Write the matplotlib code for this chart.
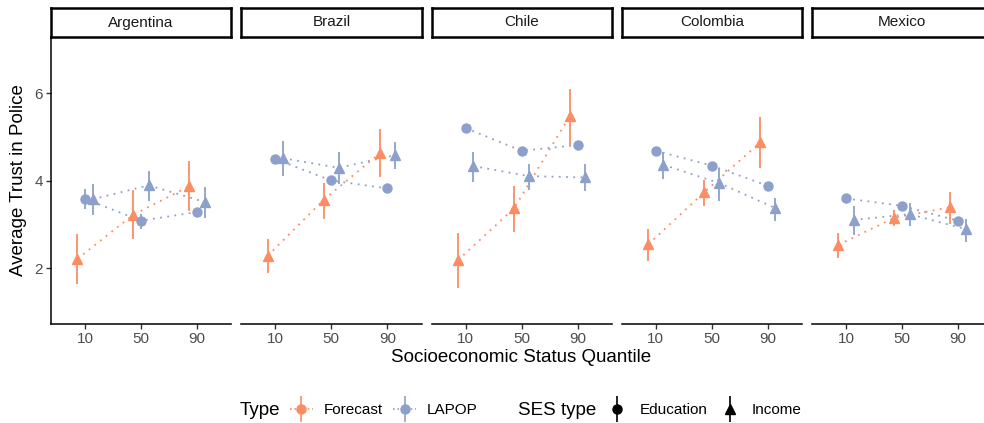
import numpy as np
import matplotlib.pyplot as plt
from matplotlib.lines import Line2D
from matplotlib.collections import LineCollection
from matplotlib.container import ErrorbarContainer
from matplotlib.legend_handler import HandlerErrorbar

plt.rcParams['font.family'] = ['Liberation Sans', 'DejaVu Sans']

countries = ['Argentina', 'Brazil', 'Chile', 'Colombia', 'Mexico']
quantiles = [10, 50, 90]

# forecast (income based)
fc_mean = [[2.22, 3.23, 3.88], [2.29, 3.57, 4.63], [2.19, 3.37, 5.49], [2.55, 3.74, 4.88], [2.54, 3.16, 3.40]]
fc_lo = [[1.65, 2.67, 3.31], [1.89, 3.13, 4.08], [1.55, 2.83, 4.82], [2.16, 3.43, 4.29], [2.23, 2.98, 3.02]]
fc_hi = [[2.79, 3.79, 4.46], [2.67, 3.95, 5.18], [2.82, 3.89, 6.10], [2.90, 4.02, 5.45], [2.80, 3.34, 3.74]]

# LAPOP by education
ed_mean = [[3.59, 3.09, 3.29], [4.50, 4.01, 3.83], [5.21, 4.69, 4.82], [4.69, 4.35, 3.89], [3.60, 3.43, 3.09]]
ed_lo = [[3.36, 2.90, 3.20], [4.40, 3.93, 3.75], [5.14, 4.62, 4.75], [4.62, 4.28, 3.82], [3.50, 3.35, 3.01]]
ed_hi = [[3.81, 3.25, 3.37], [4.60, 4.09, 3.91], [5.28, 4.76, 4.89], [4.76, 4.42, 3.96], [3.70, 3.51, 3.17]]

# LAPOP by income
in_mean = [[3.58, 3.90, 3.52], [4.52, 4.30, 4.59], [4.34, 4.11, 4.08], [4.37, 3.95, 3.38], [3.11, 3.24, 2.90]]
in_lo = [[3.22, 3.54, 3.16], [4.11, 3.92, 4.27], [3.98, 3.79, 3.78], [4.04, 3.53, 3.09], [2.77, 2.96, 2.61]]
in_hi = [[3.93, 4.23, 3.86], [4.92, 4.65, 4.88], [4.67, 4.38, 4.38], [4.65, 4.30, 3.62], [3.43, 3.50, 3.13]]

ORANGE = '#FC8D62'
BLUE = '#8DA0CB'
GREY = '#4D4D4D'

W, H = 984, 423
fig = plt.figure(figsize=(W / 100, H / 100), dpi=100)

left0, pitch, pw = 51, 190.25, 180.25
top, bottom, strip_top = 37, 324, 8
dodge = 5.4
q = np.array(quantiles, dtype=float)
dots = (0, (1, 3))


def draw_series(ax, x, m, lo, hi, color, marker, ms):
    m = np.array(m)
    err = [m - np.array(lo), np.array(hi) - m]
    ax.plot(x, m, ls=dots, color=color, lw=1.3, zorder=2)
    ax.errorbar(x, m, yerr=err, fmt=marker, color=color, ms=ms,
                elinewidth=1.3, capsize=0, zorder=3)


for i, c in enumerate(countries):
    x0 = left0 + i * pitch
    ax = fig.add_axes([x0 / W, 1 - bottom / H, pw / W, (bottom - top) / H])
    sax = fig.add_axes([x0 / W, 1 - top / H, pw / W, (top - strip_top) / H])

    draw_series(ax, q - dodge, fc_mean[i], fc_lo[i], fc_hi[i], ORANGE, '^', 7.5)
    draw_series(ax, q, ed_mean[i], ed_lo[i], ed_hi[i], BLUE, 'o', 6.5)
    draw_series(ax, q + dodge, in_mean[i], in_lo[i], in_hi[i], BLUE, '^', 7.5)

    ax.set_xlim(-14.3, 114.45)
    ax.set_ylim(0.73, 7.29)
    ax.set_xticks(quantiles)
    ax.set_yticks([2, 4, 6])
    for s in ['top', 'right']:
        ax.spines[s].set_visible(False)
    ax.spines['bottom'].set_linewidth(1.1)
    ax.spines['left'].set_linewidth(1.1)
    ax.tick_params(colors='#333333', labelcolor=GREY, labelsize=11, length=3.5,
                   width=1, pad=2.5)
    if i > 0:
        ax.spines['left'].set_visible(False)
        ax.tick_params(axis='y', left=False, labelleft=False)

    sax.set_xticks([])
    sax.set_yticks([])
    for s in sax.spines.values():
        s.set_linewidth(1.8)
    sax.text(0.5, 0.5, c, ha='center', va='center', fontsize=11, color='#1A1A1A',
             transform=sax.transAxes)

fig.text(521 / W, 1 - 357 / H, 'Socioeconomic Status Quantile', ha='center', va='center',
         fontsize=13.5)
fig.text(19 / W, 1 - 180 / H, 'Average Trust in Police', ha='center', va='center',
         rotation=90, fontsize=13.5)


def key(color, marker, ls):
    line = Line2D([], [], color=color, marker=marker, ls=ls, lw=1.2, ms=6.5)
    bars = LineCollection([], colors=color, linewidths=1.2)
    return ErrorbarContainer((line, (), (bars,)), has_xerr=False, has_yerr=True)


hmap = {ErrorbarContainer: HandlerErrorbar(yerr_size=0.85)}
ly = 1 - 410 / H

fig.text(240 / W, ly, 'Type', ha='left', va='center', fontsize=13.5)
fig.legend([key(ORANGE, 'o', ':'), key(BLUE, 'o', ':')], ['Forecast', 'LAPOP'],
           handler_map=hmap, loc='center left', bbox_to_anchor=(290 / W, ly), ncol=2,
           frameon=False, fontsize=11, handlelength=1.5, handletextpad=0.7,
           columnspacing=0.7, borderaxespad=0, borderpad=0)

fig.text(518 / W, ly, 'SES type', ha='left', va='center', fontsize=13.5)
fig.legend([key('black', 'o', 'none'), key('black', '^', 'none')], ['Education', 'Income'],
           handler_map=hmap, loc='center left', bbox_to_anchor=(606 / W, ly), ncol=2,
           frameon=False, fontsize=11, handlelength=1.5, handletextpad=0.7,
           columnspacing=0.7, borderaxespad=0, borderpad=0)

fig.savefig('out.png', dpi=100)
